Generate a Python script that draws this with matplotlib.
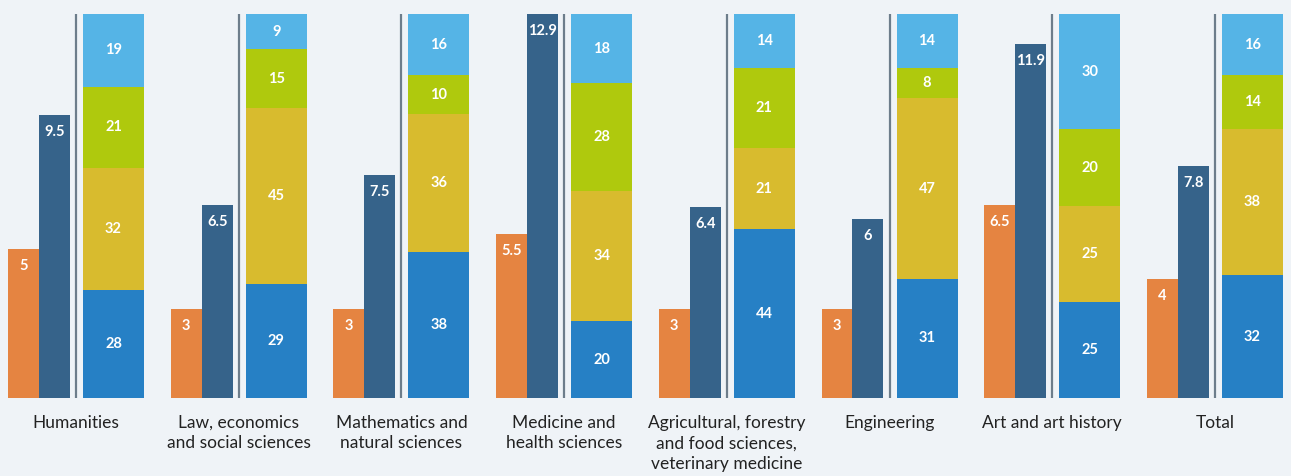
import matplotlib.pyplot as plt

# data
categories = ['Humanities', 'Law, economics\nand social sciences', 'Mathematics and\nnatural sciences',
              'Medicine and\nhealth sciences', 'Agricultural, forestry\nand food sciences,\nveterinary medicine',
              'Engineering', 'Art and art history', 'Total']
orange_vals = [5, 3, 3, 5.5, 3, 3, 6.5, 4]
navy_vals = [9.5, 6.5, 7.5, 12.9, 6.4, 6, 11.9, 7.8]
seg_blue = [28, 29, 38, 20, 44, 31, 25, 32]
seg_yellow = [32, 45, 36, 34, 21, 47, 25, 38]
seg_green = [21, 15, 10, 28, 21, 8, 20, 14]
seg_light = [19, 9, 16, 18, 14, 14, 30, 16]

BG = '#eff3f7'
ORANGE = '#e58441'
NAVY = '#36638a'
BLUE = '#2680c5'
YELLOW = '#d8bb2e'
GREEN = '#afc90d'
LIGHT = '#55b4e6'
SEP = '#6d7d8b'

plt.rcParams['font.family'] = ['Lato', 'DejaVu Sans']

fig = plt.figure(figsize=(12.91, 4.76), dpi=100, facecolor=BG)
ax = fig.add_axes([0, 0, 1, 1])
ax.set_facecolor(BG)
ax2 = ax.twinx()

x = list(range(len(categories)))
px = 162.7  # pixels per group
xmin, xmax = -76 / px, (1291 - 76) / px
ymin, ymax = -78 / 3.84, (476 - 78) / 3.84
ax.set_xlim(xmin, xmax)
ax.set_ylim(ymin, ymax)
ax2.set_ylim(ymin * 12.9 / 100, ymax * 12.9 / 100)

w_small = 31 / px
w_big = 61 / px
off_o = -52.5 / px
off_n = -21.5 / px
off_s = 37.5 / px

# left pair of bars (absolute values)
for xs, vals, col in [([i + off_o for i in x], orange_vals, ORANGE), ([i + off_n for i in x], navy_vals, NAVY)]:
    bars = ax2.bar(xs, vals, width=w_small, color=col, linewidth=0)
    for b, v in zip(bars, vals):
        ax2.annotate(f'{v:g}', (b.get_x() + b.get_width() / 2, v), xytext=(0, -17),
                     textcoords='offset pixels', ha='center', va='center',
                     color='white', fontsize=10.5, fontweight='bold')

# stacked shares, scaled to 100
segs = [(seg_blue, BLUE), (seg_yellow, YELLOW), (seg_green, GREEN), (seg_light, LIGHT)]
totals = [sum(s[0][i] for s in segs) for i in x]
bottom = [0] * len(x)
for vals, col in segs:
    h = [vals[i] * 100 / totals[i] for i in x]
    ax.bar([i + off_s for i in x], h, bottom=bottom, width=w_big, color=col, linewidth=0)
    for i in x:
        ax.text(i + off_s, bottom[i] + h[i] / 2, f'{vals[i]}', ha='center', va='center',
                color='white', fontsize=10.5, fontweight='bold')
    bottom = [bottom[i] + h[i] for i in x]

# separators and category labels
for i in x:
    ax.plot([i, i], [0, 100], color=SEP, lw=1.6, solid_capstyle='butt')
    ax.text(i, -4.4, categories[i], ha='center', va='top', fontsize=12.5, color='#222222',
            linespacing=1.35)

for a in (ax, ax2):
    a.axis('off')

fig.savefig('out.png', dpi=100, facecolor=BG)
